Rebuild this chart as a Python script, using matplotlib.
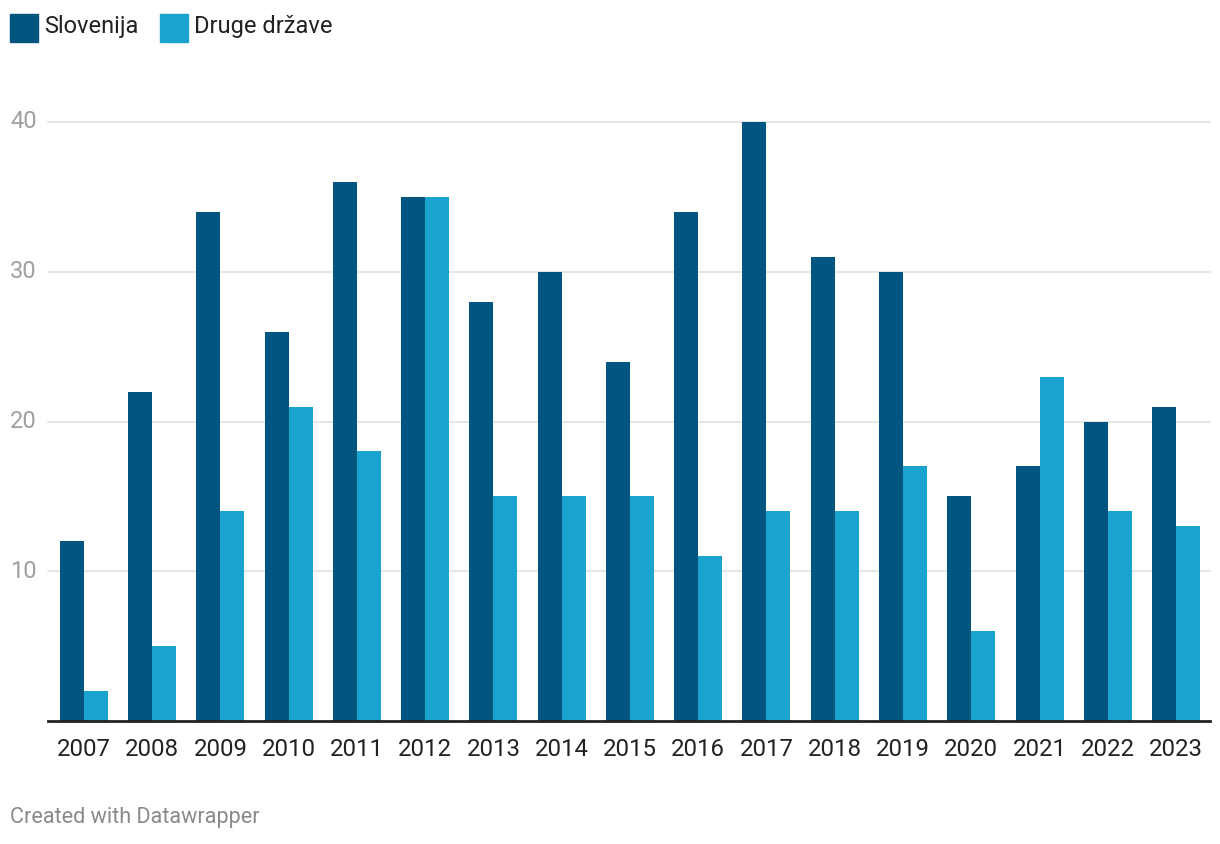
# Slovenija vs druge države, 2007-2023 (grouped bars)

import numpy as np
import matplotlib.pyplot as plt
from matplotlib.patches import Rectangle

plt.rcParams['font.family'] = ['Roboto', 'DejaVu Sans']

years = ['2007', '2008', '2009', '2010', '2011', '2012', '2013', '2014', '2015',
         '2016', '2017', '2018', '2019', '2020', '2021', '2022', '2023']
slovenija = [12, 22, 34, 26, 36, 35, 28, 30, 24, 34, 40, 31, 30, 15, 17, 20, 21]
druge = [2, 5, 14, 21, 18, 35, 15, 15, 15, 11, 14, 14, 17, 6, 23, 14, 13]
yticks = [10, 20, 30, 40]

dark = '#00567f'
light = '#1ba3d0'

W, H = 1220, 844
fig = plt.figure(figsize=(W / 100, H / 100), dpi=100)
ax = fig.add_axes([48 / W, 1 - 721 / H, (1210 - 48) / W, (721 - 122) / H])

x = np.arange(len(years))
bw = 24 / 68.25
ax.bar(x - bw / 2, slovenija, width=bw, color=dark, zorder=3)
ax.bar(x + bw / 2, druge, width=bw, color=light, zorder=3)

ax.set_xlim(-0.527, len(years) - 1 + 0.498)
ax.set_ylim(0, 40)

for s in ['top', 'right', 'left']:
    ax.spines[s].set_visible(False)
ax.spines['bottom'].set_color('#222222')
ax.spines['bottom'].set_linewidth(2)
ax.spines['bottom'].set_zorder(4)

for v in yticks:
    ax.axhline(v, color='#e2e2e2', lw=1.2, zorder=1, clip_on=False)
    fig.text(10 / W, 1 - (721 - v * 599 / 40) / H, str(v), ha='left', va='center',
             fontsize=17, color='#a0a0a0')
ax.set_yticks([])

ax.set_xticks(x)
ax.set_xticklabels(years, fontsize=17.3, color='#222222')
ax.tick_params(axis='x', length=0, pad=12)

# legend
for sx, lbl, c in [(10, 'Slovenija', dark), (160, 'Druge države', light)]:
    fig.patches.append(Rectangle((sx / W, 1 - 42 / H), 28 / W, 28 / H,
                                 transform=fig.transFigure, color=c))
    fig.text((sx + 34) / W, 1 - 27 / H, lbl, ha='left', va='center',
             fontsize=17, color='#222222')

fig.text(10 / W, 1 - 818 / H, 'Created with Datawrapper', ha='left', va='center',
         fontsize=15.6, color='#8a8a8a')

fig.savefig('out.png', dpi=100)
